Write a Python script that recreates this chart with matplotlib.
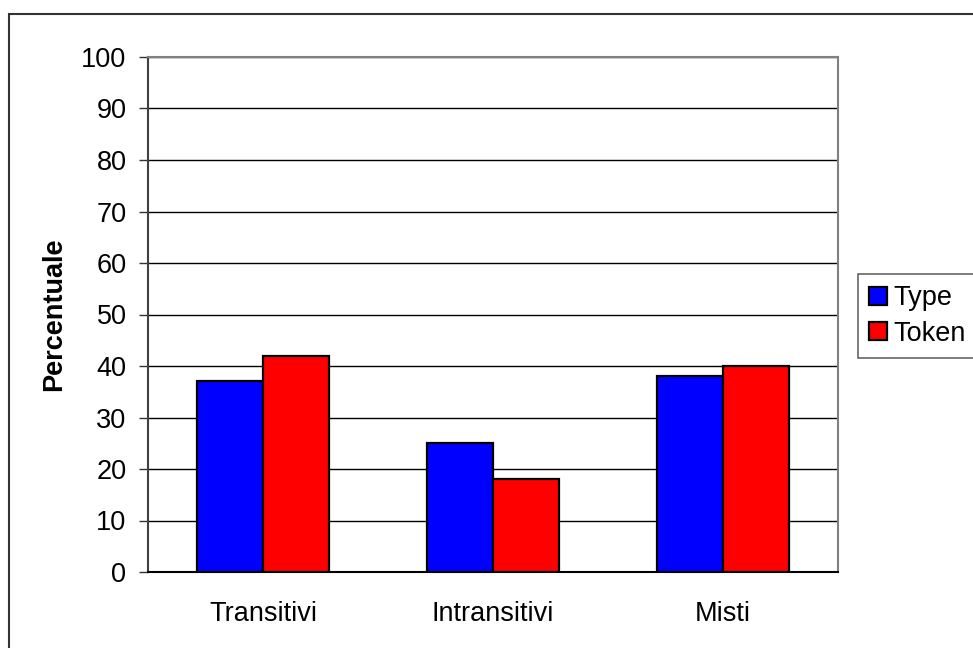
import numpy as np
import matplotlib.pyplot as plt
from matplotlib.patches import Rectangle

plt.rcParams["font.family"] = ["Liberation Sans", "DejaVu Sans"]

# --- Data ---
categories = ["Transitivi", "Intransitivi", "Misti"]
type_pct = [37, 25, 38]
token_pct = [42, 18, 40]
y_ticks = list(range(0, 101, 10))

W, H = 973, 648
fig = plt.figure(figsize=(W / 100, H / 100), dpi=100)

# outer chart-area frame (only left and top edges fall inside the image)
fig.patches.append(Rectangle((8.5 / W, -0.05), 1.1, 1 - 13.5 / H + 0.05,
                             transform=fig.transFigure, fill=False,
                             edgecolor="#333333", linewidth=1.5))

ax = fig.add_axes([148 / W, 1 - 572 / H, (838 - 148) / W, (572 - 57) / H])

x = np.arange(len(categories))
bw = 0.286
ax.bar(x - bw / 2, type_pct, bw, color="#0000ff", edgecolor="black",
       linewidth=1.6, label="Type", zorder=3)
ax.bar(x + bw / 2, token_pct, bw, color="#ff0000", edgecolor="black",
       linewidth=1.6, label="Token", zorder=3)

ax.set_xlim(-0.5, 2.5)
ax.set_ylim(0, 100)
ax.set_yticks(y_ticks)
ax.set_xticks(x)
ax.set_xticklabels(categories, fontsize=19.5)
ax.tick_params(axis="y", labelsize=19.5, length=6.5, width=1, color="#333333",
               direction="out", pad=9)
ax.tick_params(axis="x", length=0, pad=21)
ax.yaxis.grid(True, color="black", linewidth=1)
ax.set_axisbelow(True)

for side in ["top", "right"]:
    ax.spines[side].set_color("#808080")
    ax.spines[side].set_linewidth(1.5)
ax.spines["left"].set_color("#404040")
ax.spines["bottom"].set_color("black")
ax.spines["left"].set_linewidth(1.5)
ax.spines["bottom"].set_linewidth(1.5)

ax.set_ylabel("Percentuale", fontsize=19.5, fontweight="bold", labelpad=10)

# legend box runs past the right edge of the figure
leg = fig.legend(loc="upper left",
                 bbox_to_anchor=(858 / W, 1 - 355 / H, 0.2, 81 / H),
                 mode="expand", fontsize=19.5, frameon=True, fancybox=False,
                 handlelength=0.65, handleheight=0.65, handletextpad=0.25,
                 borderpad=0.42, labelspacing=0.35, borderaxespad=0)
leg.get_frame().set_edgecolor("#404040")
leg.get_frame().set_linewidth(1.2)

fig.savefig("out.png", dpi=100)
